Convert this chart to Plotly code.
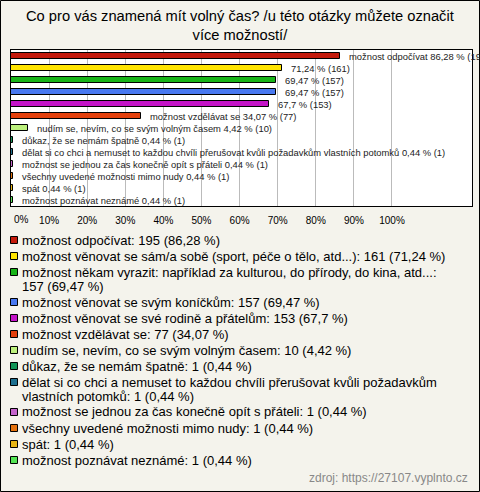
import textwrap
import plotly.graph_objects as go

# ---- data ----
categories = [
    "možnost odpočívat",
    "možnost věnovat se sám/a sobě (sport, péče o tělo, atd...)",
    "možnost někam vyrazit: například za kulturou, do přírody, do kina, atd...",
    "možnost věnovat se svým koníčkům",
    "možnost věnovat se své rodině a přátelům",
    "možnost vzdělávat se",
    "nudím se, nevím, co se svým volným časem",
    "důkaz, že se nemám špatně",
    "dělat si co chci a nemuset to každou chvíli přerušovat kvůli požadavkům vlastních potomků",
    "možnost se jednou za čas konečně opít s přáteli",
    "všechny uvedené možnosti mimo nudy",
    "spát",
    "možnost poznávat neznámé",
]
counts = [195, 161, 157, 157, 153, 77, 10, 1, 1, 1, 1, 1, 1]
percents = [86.28, 71.24, 69.47, 69.47, 67.7, 34.07, 4.42, 0.44, 0.44, 0.44, 0.44, 0.44, 0.44]
show_name_on_bar = [True, False, False, False, False, True, True, True, True, True, True, True, True]
colors = ["#C41A0C", "#FFE400", "#18B418", "#4878F0", "#C414C8", "#E4400C", "#BCF07C",
          "#129456", "#1E7090", "#C464CC", "#E4720E", "#E6B414", "#54E454"]
tick_values = [0, 10, 20, 30, 40, 50, 60, 70, 80, 90, 100]
tick_labels = [f"{v}%" for v in tick_values]

W, H = 480, 492
L, R, T, B = 11, 8, 50, 286
PW, PH = W - L - R, H - T - B
FONT = "Liberation Sans, Arial, sans-serif"


def px(x):
    return (x - L) / PW


def py(y):
    return (H - B - y) / PH


def fmt(v):
    return f"{v:g}".replace(".", ",")


fig = go.Figure()
fig.add_trace(go.Bar(
    x=percents, y=list(range(len(categories))), orientation="h",
    marker=dict(color=colors, line=dict(color="#000000", width=1)),
    width=0.45, cliponaxis=False, showlegend=False, hoverinfo="skip",
))

annotations = []
for i, (c, n, p, s) in enumerate(zip(categories, counts, percents, show_name_on_bar)):
    txt = (c + " " if s else "") + f"{fmt(p)} % ({n})"
    annotations.append(dict(x=p, y=i, xref="x", yref="y", text=txt, showarrow=False,
                            xanchor="left", yanchor="middle", xshift=7,
                            font=dict(family=FONT, size=9.4, color="#222222")))

# first tick label sits just right of the left frame
annotations.append(dict(x=tick_values[0], y=py(219.5), xref="x", yref="paper",
                        text=tick_labels[0], showarrow=False, xanchor="left",
                        yanchor="middle", xshift=1,
                        font=dict(family=FONT, size=10, color="#000000")))

shapes = []
y = 240
for c, n, p, col in zip(categories, counts, percents, colors):
    label = f"{c}: {n} ({fmt(p)} %)"
    lines = textwrap.wrap(label, width=75)
    shapes.append(dict(type="rect", xref="paper", yref="paper",
                       x0=px(10.5), x1=px(17.5), y0=py(y - 3.5), y1=py(y + 3.5),
                       fillcolor=col, line=dict(color="#000000", width=1)))
    for k, ln in enumerate(lines):
        annotations.append(dict(x=px(20), y=py(y), xref="paper", yref="paper", text=ln,
                                showarrow=False, xanchor="left", yanchor="middle",
                                font=dict(family=FONT, size=13, color="#000000")))
        if k < len(lines) - 1:
            y += 14
    y += 16

annotations.append(dict(x=px(470), y=py(478), xref="paper", yref="paper",
                        text="zdroj: https://27107.vyplnto.cz", showarrow=False,
                        xanchor="right", yanchor="middle",
                        font=dict(family=FONT, size=12, color="#888888")))

annotations.append(dict(x=0.5 * (px(0) + px(W)), y=py(25.5), xref="paper", yref="paper",
                        text="Co pro vás znamená mít volný čas? /u této otázky můžete označit<br>více možností/",
                        showarrow=False, xanchor="center", yanchor="middle",
                        font=dict(family=FONT, size=14.7, color="#000000")))

shapes.append(dict(type="rect", xref="paper", yref="paper",
                   x0=px(0.5), x1=px(W - 0.5), y0=py(0.5), y1=py(H - 0.5),
                   line=dict(color="#000000", width=1), layer="above"))

fig.update_layout(
    width=W, height=H, margin=dict(l=L, r=R, t=T, b=B),
    paper_bgcolor="#F4F3EC", plot_bgcolor="#FFFFFF",
    bargap=0, barmode="overlay",
    xaxis=dict(range=[0, 121], tickvals=tick_values[1:], ticktext=tick_labels[1:],
               showgrid=True, gridcolor="#BBBBBB", gridwidth=1, zeroline=False,
               showline=True, linecolor="#000000", linewidth=1, mirror=True,
               ticks="", ticklabelstandoff=5,
               tickfont=dict(family=FONT, size=10, color="#000000"),
               fixedrange=True),
    yaxis=dict(range=[len(categories) - 0.5, -0.5], showticklabels=False,
               showgrid=False, zeroline=False, showline=True, linecolor="#000000",
               linewidth=1, mirror=True, ticks="", fixedrange=True),
    annotations=annotations, shapes=shapes, showlegend=False,
)

fig.write_html("out.html", config={"displayModeBar": False},
               post_script="document.body.style.margin='0';document.body.style.overflow='hidden';")
